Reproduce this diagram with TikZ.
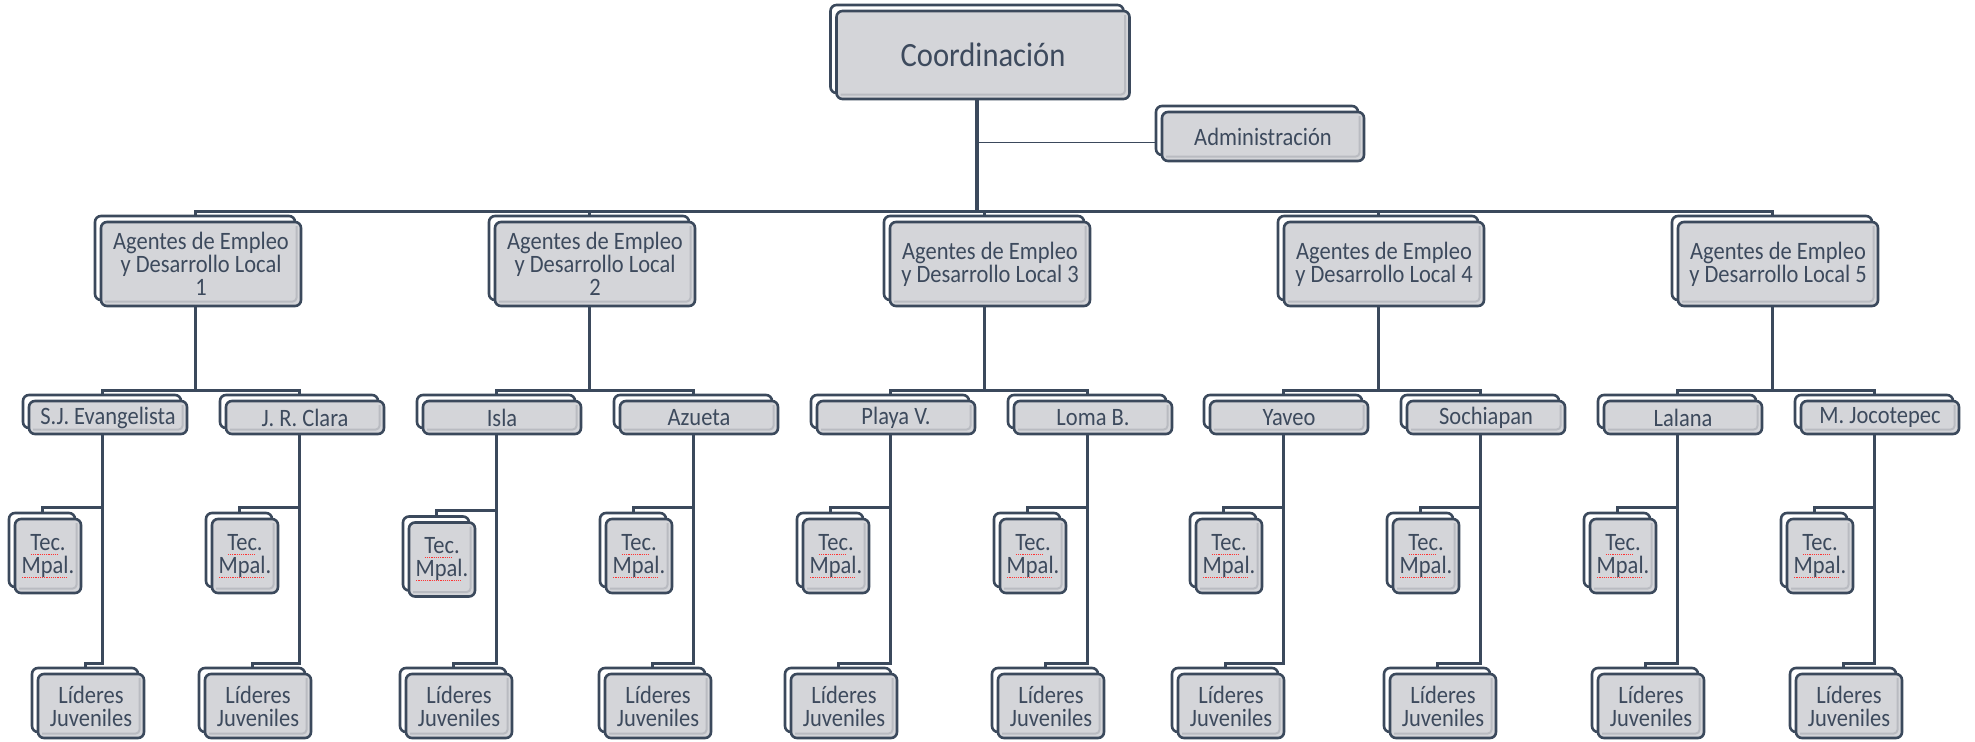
\documentclass[tikz,border=0pt]{standalone}
\usepackage{fontspec}
\setmainfont{Carlito}[FakeStretch=0.9]
\usepackage{xcolor}
\usepackage{tikz}
\usetikzlibrary{backgrounds}

\definecolor{orgline}{HTML}{3B495C}
\definecolor{orgfill}{HTML}{D4D5D9}
\definecolor{orgbevel}{HTML}{B9BBC1}
\definecolor{orgtext}{HTML}{3D4A5D}

\newsavebox{\spellbox}
\newcommand{\spellmark}[1]{\sbox{\spellbox}{#1}\rlap{\textcolor{red!80}{\leaders\hbox to 1.1pt{\hss\rule[-0.35ex]{0.6pt}{0.35pt}\hss}\hskip\wd\spellbox}}\usebox{\spellbox}}

\begin{document}
\begin{tikzpicture}[x=0.5pt,y=-0.5pt,thick]
  \tikzstyle{backbox}=[draw=orgline,fill=white,line width=1.3pt,rounded corners=3pt,inner sep=0pt,outer sep=0pt]
  \tikzstyle{bevel}=[path picture={\draw[orgbevel,line width=1pt,rounded corners=2pt]
      ([xshift=2pt,yshift=2.2pt]path picture bounding box.south west) --
      ([xshift=-2.2pt,yshift=2.2pt]path picture bounding box.south east) --
      ([xshift=-2.2pt,yshift=-2pt]path picture bounding box.north east);}]
  \tikzstyle{frontbox}=[backbox,fill=orgfill,xshift=3pt,yshift=-3pt,text=orgtext,align=center,font=\fontsize{12.5}{11.5}\selectfont,bevel]
  \tikzstyle{conn}=[draw=orgline,line width=1.5pt]
  \tikzstyle{coordbox}=[minimum width=146.5pt,minimum height=44pt]
  \tikzstyle{admin}=[minimum width=101pt,minimum height=24.5pt]
  \tikzstyle{agent}=[minimum width=100pt,minimum height=42pt]
  \tikzstyle{muni}=[minimum width=79pt,minimum height=16.5pt]
  \tikzstyle{tec}=[minimum width=33pt,minimum height=37pt]
  \tikzstyle{lider}=[minimum width=53pt,minimum height=32pt]

  \useasboundingbox (0,0) rectangle (1975,741);

  % coordination and administration
  \node[backbox,coordbox] (b0) at (977,49) {};
  \node[frontbox,coordbox,font=\fontsize{17}{20}\selectfont] (c0) at (977,49) {Coordinación};
  \node[backbox,admin] (badm) at (1257,130.5) {};
  \node[frontbox,admin] (adm) at (1257,130.5) {Administración};

  % agents
  \foreach \x/\txt [count=\j] in {195/{Agentes de Empleo\\y Desarrollo Local\\1},
      589/{Agentes de Empleo\\y Desarrollo Local\\2},
      984/{Agentes de Empleo\\y Desarrollo Local 3},
      1378/{Agentes de Empleo\\y Desarrollo Local 4},
      1772/{Agentes de Empleo\\y Desarrollo Local 5}}
  {
    \node[backbox,agent] (bg\j) at (\x,258) {};
    \node[frontbox,agent] (g\j) at (\x,258) {\txt};
  }

  % municipalities
  \foreach \x/\name/\ty/\lx [count=\k] in {102/S.J. Evangelista/550/85, 299/J. R. Clara/550/252,
      496/Isla/553.5/453, 693/Azueta/550/652, 890/Playa V./550/838, 1087/Loma B./550/1045,
      1283/Yaveo/550/1225, 1480/Sochiapan/550/1437, 1677/Lalana/550/1645, 1874/M. Jocotepec/550/1843}
  {
    \node[backbox,muni] (bm\k) at (\x,411.5) {};
    \node[frontbox,muni] (m\k) at (\x,411.5) {\name};
    \node[backbox,tec] (bt\k) at (\x-60,\ty) {};
    \node[frontbox,tec] (t\k) at (\x-60,\ty) {\spellmark{Tec}.\\\spellmark{Mpal}.};
    \node[backbox,lider] (bl\k) at (\lx,700) {};
    \node[frontbox,lider] (l\k) at (\lx,700) {Líderes\\Juveniles};
  }

  \begin{scope}[on background layer]
    \coordinate (bus) at (0,211);
    \draw[conn,line width=2pt] (b0.center) -- (b0.center |- bus);
    \draw[conn,line width=0.6pt] ([yshift=-3pt]adm.west) -| (b0.center);
    \foreach \j in {1,...,5}
      \draw[conn] (bg\j.north) |- (b0.center |- bus);
    \foreach \k in {1,...,10} {
      \pgfmathtruncatemacro{\g}{(\k+1)/2}
      \draw[conn] (bm\k.north) -- ++(0,-5) -| (bg\g.center);
      \draw[conn] (bt\k.north) -- ++(0,-6) -| (bm\k.center);
      \draw[conn] (bl\k.north) -- ++(0,-5) -| (bm\k.center);
    }
  \end{scope}
\end{tikzpicture}
\end{document}
